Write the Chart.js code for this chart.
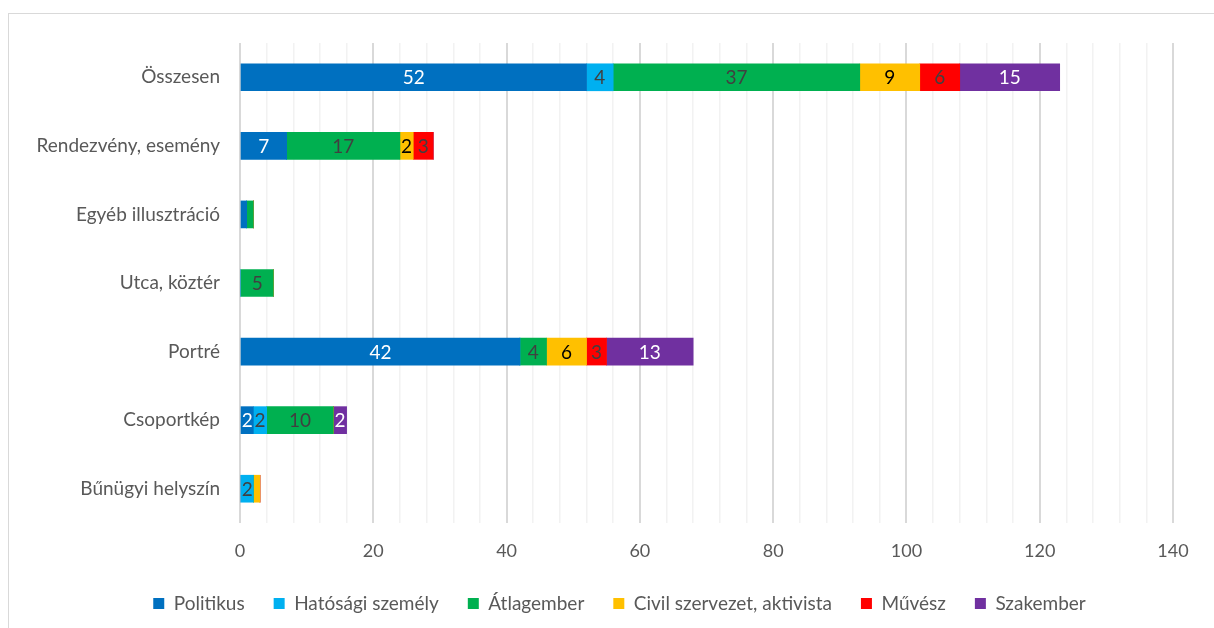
<!DOCTYPE html>
<html>
<head>
<meta charset="utf-8">
<script src="https://cdn.jsdelivr.net/npm/chart.js@4/dist/chart.umd.min.js"></script>
<style>
  body { margin: 0; background: #fff; }
  #frame { position: absolute; left: 8px; top: 13px; width: 1300px; height: 700px; border: 1px solid #d9d9d9; }
  #wrap { position: absolute; left: 0; top: 0; width: 1214px; height: 628px; }
</style>
</head>
<body>
<div id="frame"></div>
<div id="wrap"><canvas id="myChart" width="1214" height="628"></canvas></div>
<script>
var categories = [
  "Összesen",
  "Rendezvény, esemény",
  "Egyéb illusztráció",
  "Utca, köztér",
  "Portré",
  "Csoportkép",
  "Bűnügyi helyszín",
];

var politikus = [52, 7, 1, 0, 42, 2, 0];
var hatosagi = [4, 0, 0, 0, 0, 2, 2];
var atlagember = [37, 17, 1, 5, 4, 10, 0];
var civil = [9, 2, 0, 0, 6, 0, 1];
var muvesz = [6, 3, 0, 0, 3, 0, 0];
var szakember = [15, 0, 0, 0, 13, 2, 0];

var xTicks = [0, 20, 40, 60, 80, 100, 120, 140];

var fontName = "Lato, 'Open Sans', sans-serif";
var textColor = "#595959";

function makeSet(label, data, color, labelColor) {
  return {
    label: label,
    data: data,
    backgroundColor: color,
    borderWidth: 0,
    barThickness: 27,
    labelColor: labelColor,
  };
}

// draws the value inside each segment, like the Excel data labels
var valueLabels = {
  id: "valueLabels",
  afterDatasetsDraw: function (chart) {
    var ctx = chart.ctx;
    ctx.save();
    ctx.font = "19px " + fontName;
    ctx.textAlign = "center";
    ctx.textBaseline = "middle";
    chart.data.datasets.forEach(function (ds, i) {
      var meta = chart.getDatasetMeta(i);
      meta.data.forEach(function (bar, j) {
        var v = ds.data[j];
        if (v < 2) return;
        var c = bar.getCenterPoint();
        ctx.fillStyle = ds.labelColor;
        ctx.fillText(String(v), c.x, c.y + 1);
      });
    });
    ctx.restore();
  },
};

var shiftLegend = {
  id: "shiftLegend",
  afterLayout: function (chart) {
    chart.legend.left += 29;
    chart.legend.right += 29;
  },
};

window.onload = function () {
  var ctx = document.getElementById("myChart").getContext("2d");
  new Chart(ctx, {
    type: "bar",
    data: {
      labels: categories,
      datasets: [
        makeSet("Politikus", politikus, "#0070C0", "#ffffff"),
        makeSet("Hatósági személy", hatosagi, "#00B0F0", "#404040"),
        makeSet("Átlagember", atlagember, "#00B050", "#404040"),
        makeSet("Civil szervezet, aktivista", civil, "#FFC000", "#000000"),
        makeSet("Művész", muvesz, "#FF0000", "#404040"),
        makeSet("Szakember", szakember, "#7030A0", "#ffffff"),
      ],
    },
    options: {
      indexAxis: "y",
      responsive: false,
      animation: false,
      layout: { padding: { left: 8, right: 41, top: 43, bottom: 5 } },
      scales: {
        x: {
          stacked: true,
          min: 0,
          max: 140,
          border: { display: false },
          grid: {
            drawTicks: false,
            color: function (c) {
              return c.tick && c.tick.value % 20 === 0 ? "#d9d9d9" : "#f2f2f2";
            },
            lineWidth: function (c) {
              return c.tick && c.tick.value % 20 === 0 ? 2 : 1.5;
            },
          },
          ticks: {
            stepSize: 4,
            autoSkip: false,
            maxRotation: 0,
            padding: 17,
            color: textColor,
            font: { family: fontName, size: 18 },
            callback: function (v) {
              return xTicks.indexOf(v) >= 0 ? String(v) : "";
            },
          },
          afterFit: function (scale) {
            scale.height = 42;
          },
        },
        y: {
          stacked: true,
          border: { display: false },
          grid: { display: false, drawTicks: false },
          ticks: {
            padding: 20,
            color: textColor,
            font: { family: fontName, size: 19 },
          },
          afterFit: function (scale) {
            scale.width = 232;
          },
        },
      },
      plugins: {
        legend: {
          position: "bottom",
          labels: {
            boxWidth: 11,
            boxHeight: 11,
            padding: 29,
            color: textColor,
            font: { family: fontName, size: 19 },
          },
        },
        tooltip: { enabled: false },
      },
    },
    plugins: [valueLabels, shiftLegend],
  });
};
</script>
</body>
</html>
